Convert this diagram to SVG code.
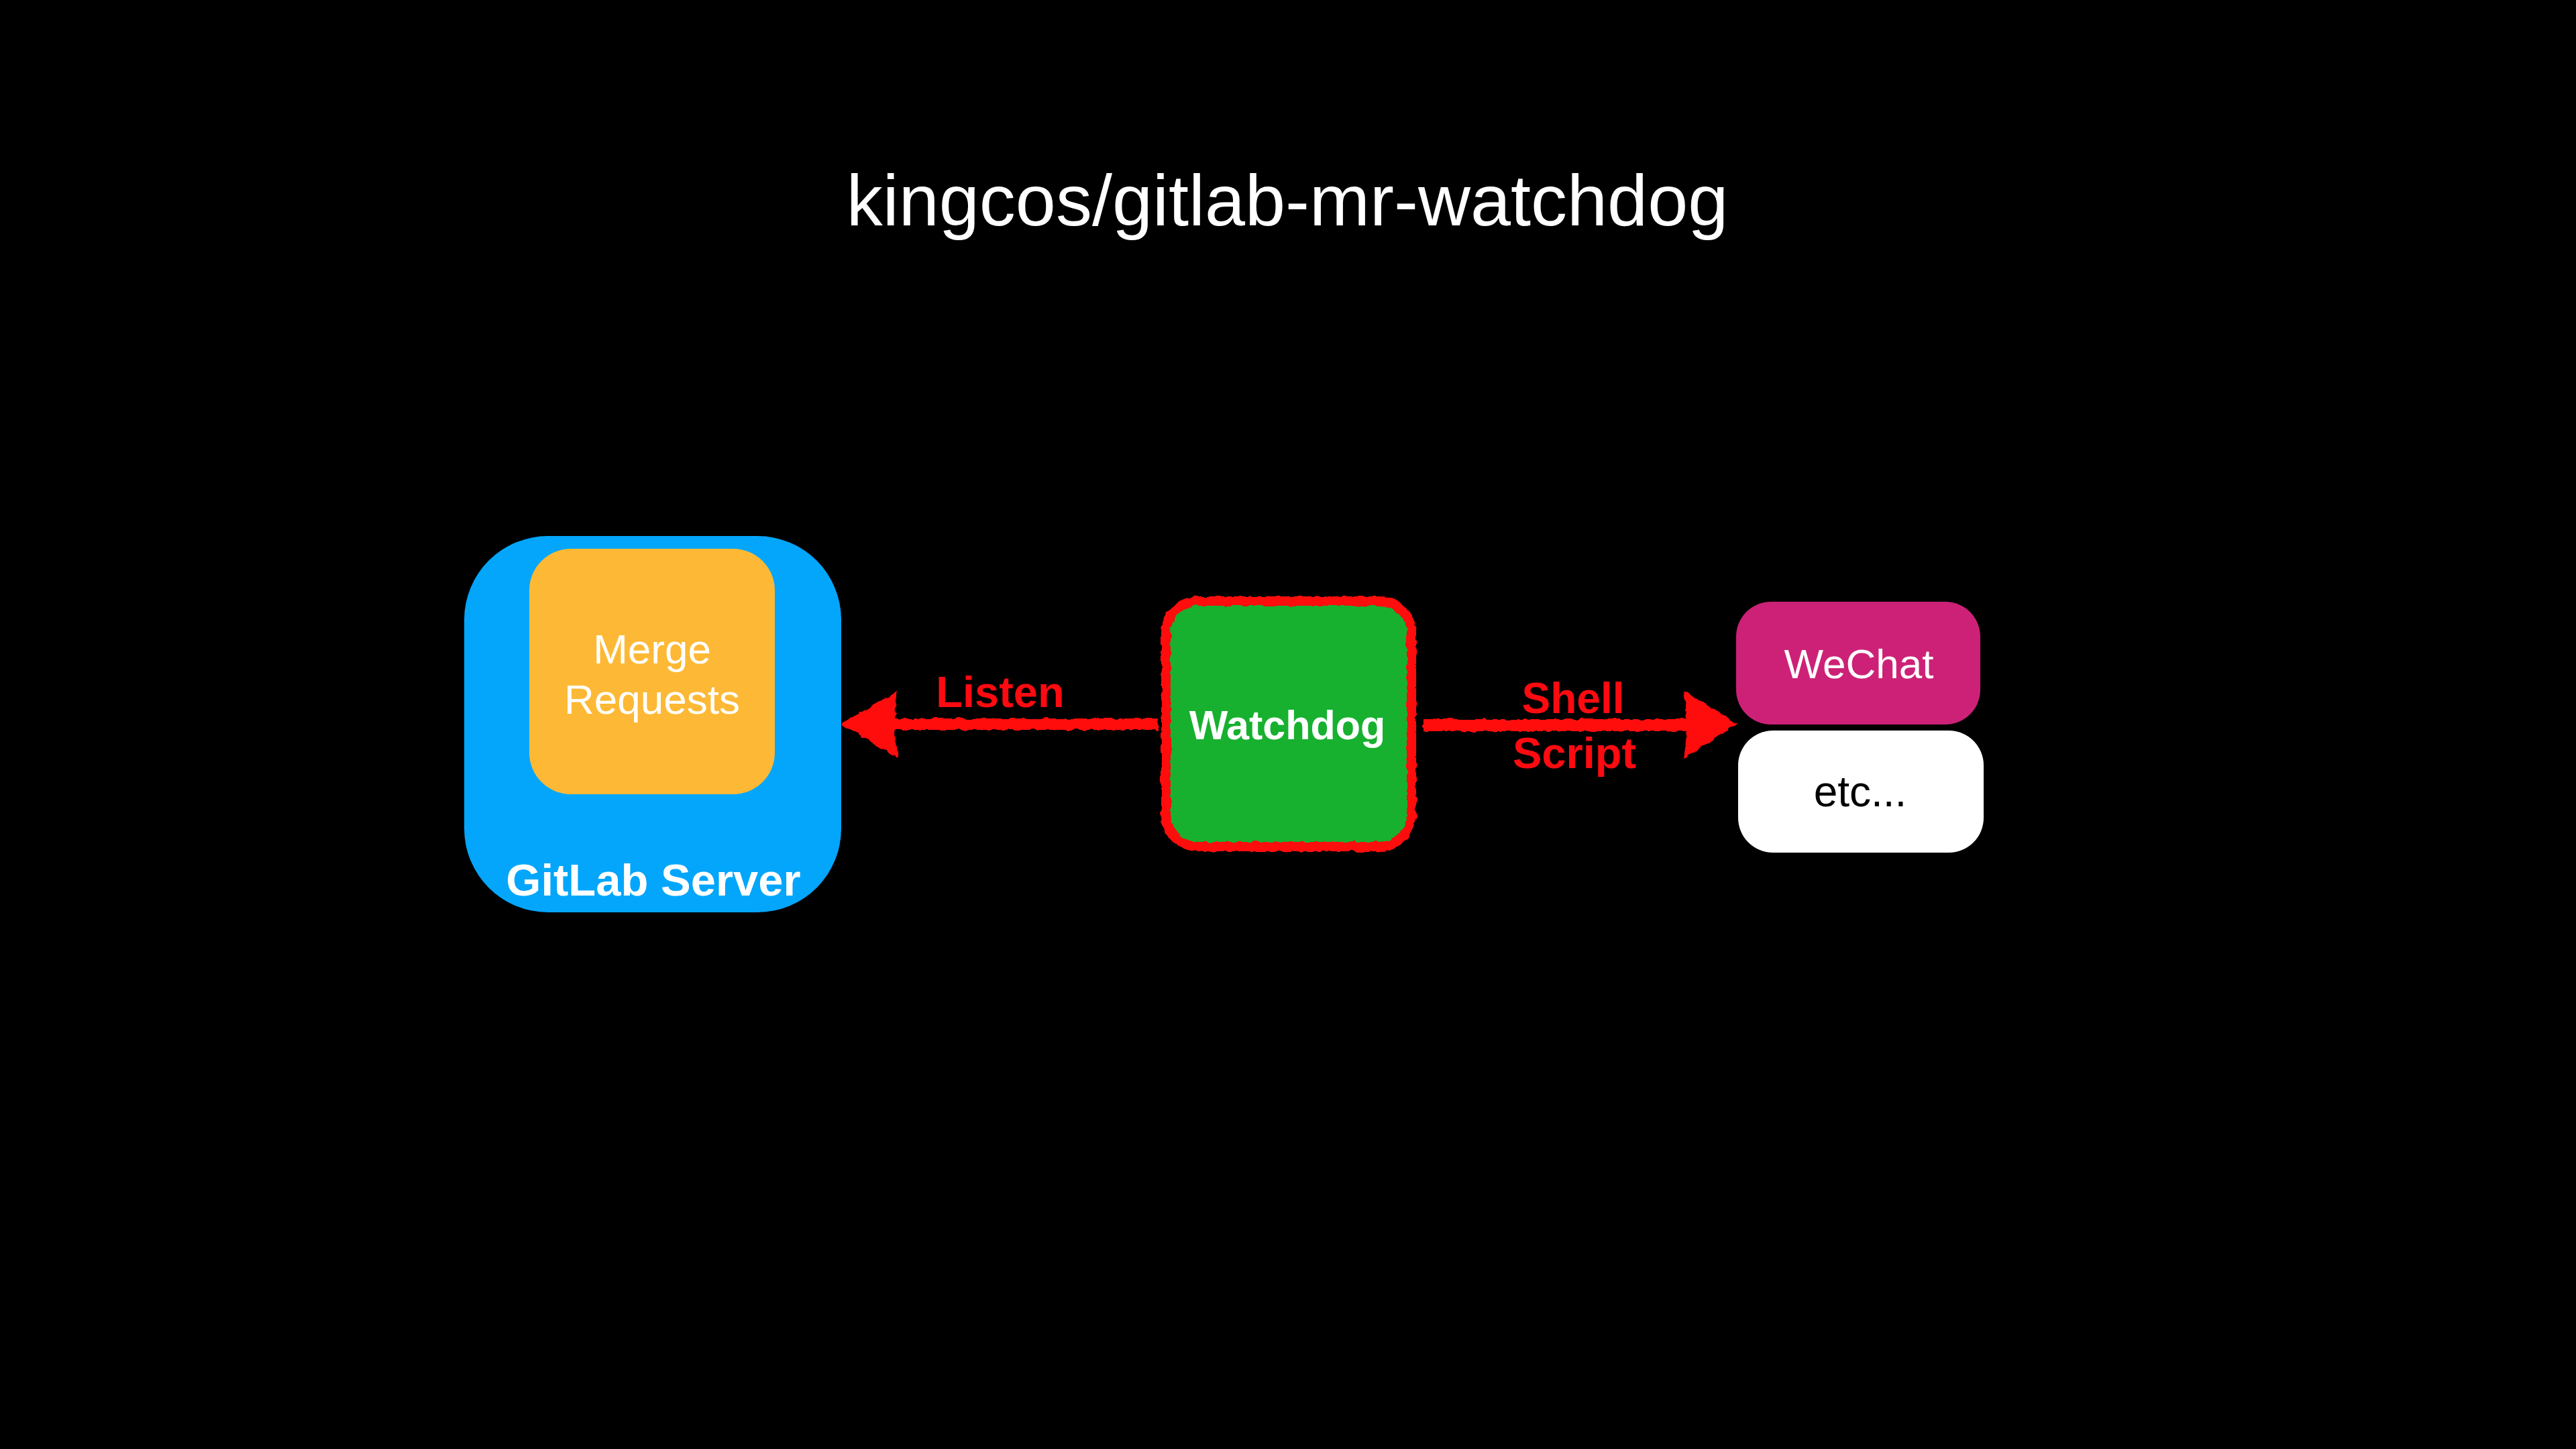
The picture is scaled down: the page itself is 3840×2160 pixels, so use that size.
<svg xmlns="http://www.w3.org/2000/svg" width="3840" height="2160" viewBox="0 0 3840 2160">
  <defs>
    <style>
      .t { font-family: "Liberation Sans", Arial, Helvetica, sans-serif; text-anchor: middle; }
      .w { fill: #ffffff; }
      .b { font-weight: bold; }
      .red { fill: #FF0A10; }
      .chalk { fill: #FF0A10; filter: url(#rough); }
    </style>
    <filter id="rough" x="-10%" y="-20%" width="120%" height="140%">
      <feTurbulence type="fractalNoise" baseFrequency="0.09" numOctaves="2" seed="3" result="n"/>
      <feDisplacementMap in="SourceGraphic" in2="n" scale="7" xChannelSelector="R" yChannelSelector="G"/>
    </filter>
  </defs>
  <rect x="0" y="0" width="3840" height="2160" fill="#000000"/>

  <text class="t w" x="1919" y="336" font-size="108">kingcos/gitlab-mr-watchdog</text>

  <g id="gitlab-server">
    <rect x="692" y="799" width="562" height="561" rx="125" ry="125" fill="#03A6FB"/>
    <text class="t w b" x="974" y="1335" font-size="67">GitLab Server</text>
  </g>

  <g id="merge-requests">
    <rect x="789" y="818" width="366" height="366" rx="62" ry="62" fill="#FDB935"/>
    <text class="t w" x="972" y="989" font-size="62">Merge</text>
    <text class="t w" x="972" y="1064" font-size="62">Requests</text>
  </g>

  <g id="watchdog">
    <rect x="1736" y="894" width="370" height="370" rx="50" ry="50" fill="#17B12F"/>
    <rect x="1738" y="896" width="366" height="366" rx="48" ry="48" fill="none" stroke="#FF0A10" stroke-width="14" filter="url(#rough)"/>
    <text class="t w b" x="1919" y="1102" font-size="61">Watchdog</text>
  </g>

  <g id="wechat">
    <rect x="2588" y="897" width="364" height="183" rx="52" ry="52" fill="#CD2177"/>
    <text class="t w" x="2771" y="1011" font-size="62">WeChat</text>
  </g>

  <g id="etc">
    <rect x="2591" y="1089" width="366" height="182" rx="52" ry="52" fill="#ffffff"/>
    <text class="t" x="2773" y="1202" font-size="64" fill="#000000">etc...</text>
  </g>

  <g id="connectors">
    <g class="chalk">
      <rect x="1328" y="1071" width="398" height="17"/>
      <path d="M1254,1079 L1338,1030 Q1330,1080 1338,1130 Z"/>
    </g>
    <text class="t red b" x="1491" y="1054" font-size="65">Listen</text>

    <g class="chalk">
      <rect x="2122" y="1072" width="396" height="18"/>
      <path d="M2590,1079 L2510,1030 Q2518,1080 2510,1130 Z"/>
    </g>
    <text class="t red b" x="2345" y="1063" font-size="64">Shell</text>
    <text class="t red b" x="2347" y="1145" font-size="65">Script</text>
  </g>
</svg>
